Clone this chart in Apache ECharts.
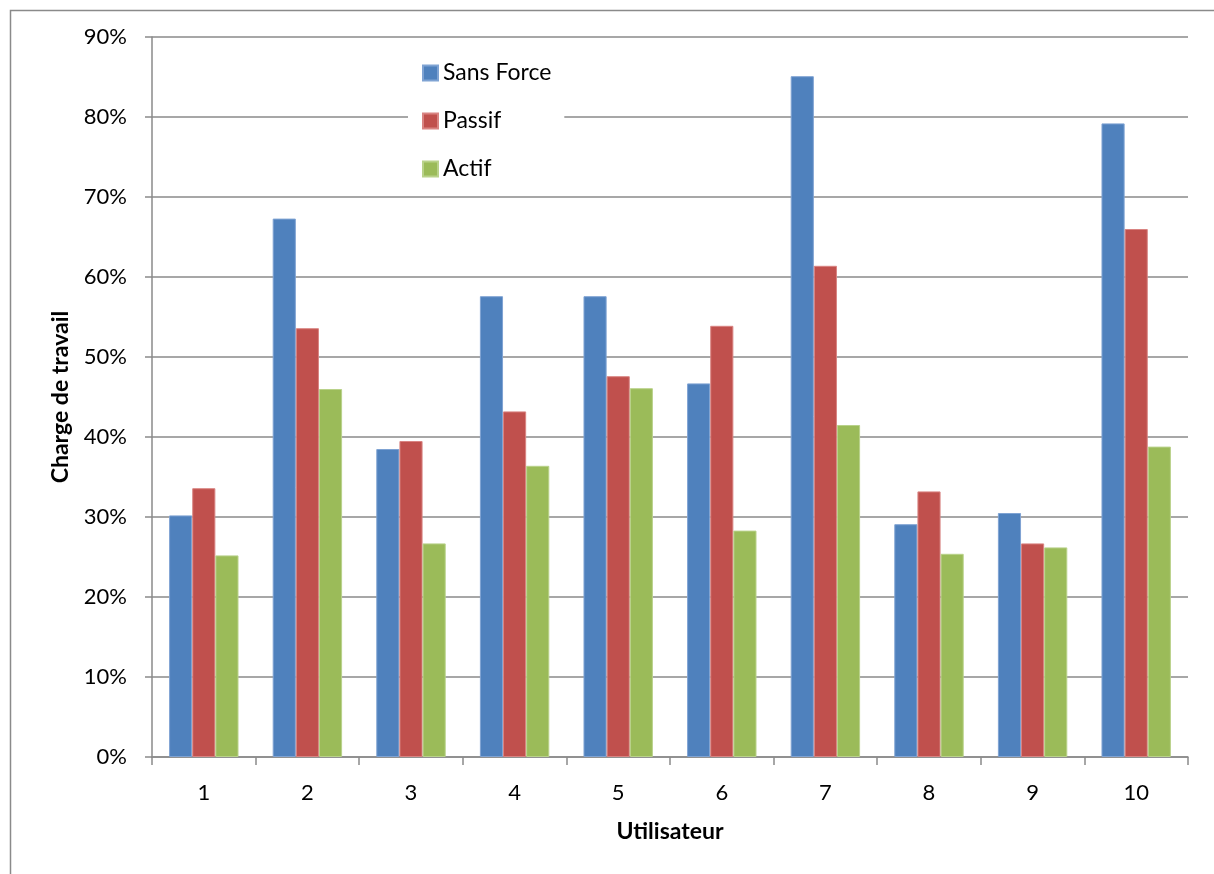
<!DOCTYPE html>
<html>
<head>
<meta charset="utf-8">
<script src="https://cdn.jsdelivr.net/npm/echarts@6/dist/echarts.min.js"></script>
<style>
html,body{margin:0;padding:0;background:#fff;}
#c{width:1214px;height:874px;}
</style>
</head>
<body>
<div id="c"></div>
<script>
const categories = ['1','2','3','4','5','6','7','8','9','10'];
const sansForce = [30.2, 67.3, 38.5, 57.6, 57.6, 46.7, 85.1, 29.1, 30.5, 79.2];
const passif    = [33.6, 53.6, 39.5, 43.2, 47.6, 53.9, 61.4, 33.2, 26.7, 66.0];
const actif     = [25.2, 46.0, 26.7, 36.4, 46.1, 28.3, 41.5, 25.4, 26.2, 38.8];
const seriesNames = ['Sans Force', 'Passif', 'Actif'];
const colors = ['#4F81BD', '#C0504D', '#9BBB59'];
const borders = ['#7FA3D3', '#D98482', '#B9D28A'];

const font = 'Lato, "Open Sans", "Liberation Sans", sans-serif';
const chart = echarts.init(document.getElementById('c'), null, {renderer: 'canvas'});
const data = [sansForce, passif, actif];
chart.setOption({
  animation: false,
  backgroundColor: '#fff',
  textStyle: {fontFamily: font},
  graphic: [{
    type: 'rect', left: 8, top: 8, z: -10,
    shape: {width: 1240, height: 900},
    style: {fill: 'none', stroke: '#8a8a8a', lineWidth: 1.5}
  }],
  grid: {left: 152, right: 26, top: 37, bottom: 117, containLabel: false},
  legend: {
    orient: 'vertical', left: 408, top: 51,
    padding: [10, 13, 10, 14],
    backgroundColor: '#fff',
    itemWidth: 15, itemHeight: 15, itemGap: 24, itemTextGap: 7,
    icon: 'rect',
    textStyle: {fontSize: 23, color: '#000', fontFamily: font, lineHeight: 24},
    data: seriesNames
  },
  xAxis: {
    type: 'category', data: categories,
    name: 'Utilisateur', nameLocation: 'middle', nameGap: 63,
    nameTextStyle: {fontSize: 23, fontWeight: 'bold', color: '#000', fontFamily: font},
    axisLine: {lineStyle: {color: '#8a8a8a', width: 1.5}},
    axisTick: {show: true, length: 8, lineStyle: {color: '#8a8a8a', width: 1.5}},
    axisLabel: {fontSize: 22, color: '#000', margin: 25, fontFamily: font}
  },
  yAxis: {
    type: 'value', min: 0, max: 90, interval: 10,
    name: 'Charge de travail', nameLocation: 'middle', nameGap: 80,
    nameTextStyle: {fontSize: 23, fontWeight: 'bold', color: '#000', fontFamily: font},
    axisLine: {show: true, lineStyle: {color: '#8a8a8a', width: 1.5}},
    axisTick: {show: true, length: 7, lineStyle: {color: '#8a8a8a', width: 1.5}},
    axisLabel: {fontSize: 22, color: '#000', margin: 25, formatter: v => v + '%', fontFamily: font},
    splitLine: {lineStyle: {color: '#8a8a8a', width: 1.5}}
  },
  series: seriesNames.map((n, i) => ({
    name: n, type: 'bar', data: data[i],
    barGap: '0%', barCategoryGap: '33%',
    itemStyle: {color: colors[i], borderColor: borders[i], borderWidth: 1}
  }))
});
</script>
</body>
</html>
